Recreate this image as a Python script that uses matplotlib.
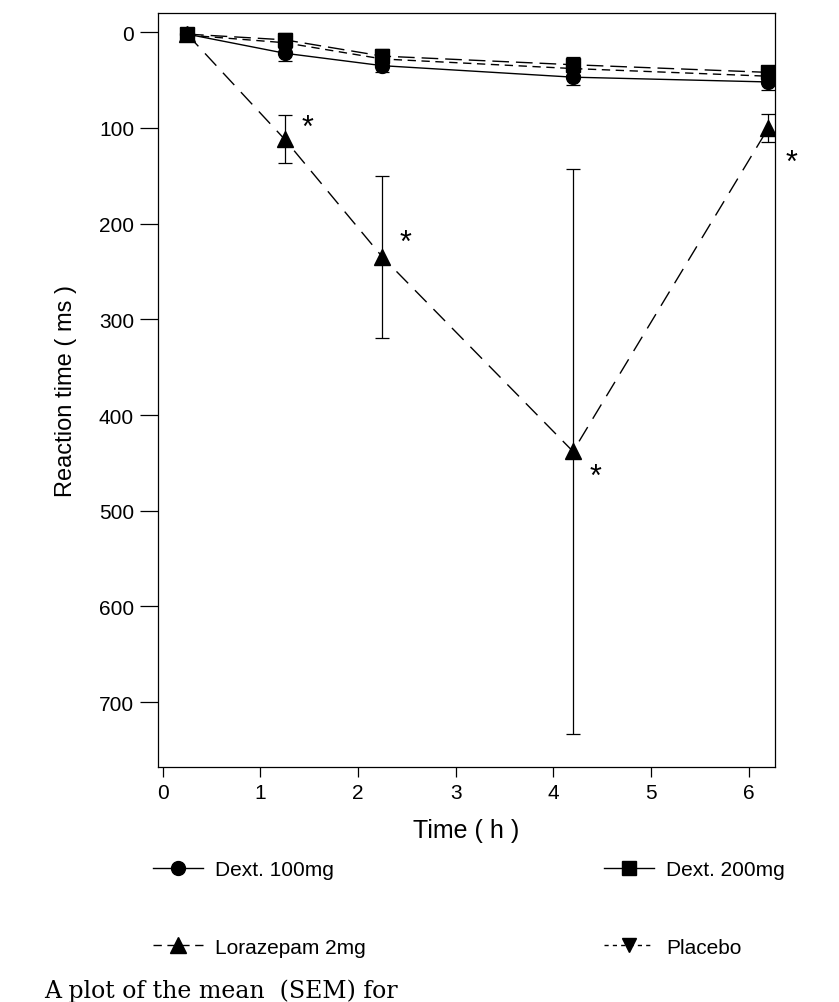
import matplotlib
matplotlib.use("Agg")
import matplotlib.pyplot as plt
from matplotlib.lines import Line2D

plt.rcParams["font.family"] = ["Liberation Sans", "DejaVu Sans"]

# Time points (h) and mean reaction times (ms) with SEM
time_h = [0.25, 1.25, 2.25, 4.2, 6.2]

dext100 = [2, 22, 35, 47, 52]
dext100_sem = [5, 8, 7, 8, 8]

dext200 = [2, 8, 25, 34, 42]
dext200_sem = [5, 7, 7, 8, 7]

placebo = [3, 11, 28, 38, 46]
placebo_sem = [5, 6, 6, 7, 7]

loraz = [2, 112, 235, 438, 100]
loraz_sem = [5, 25, 85, 295, 15]

xticks = [0, 1, 2, 3, 4, 5, 6]
yticks = [0, 100, 200, 300, 400, 500, 600, 700]

fig = plt.figure(figsize=(8.39, 10.03), dpi=100)
ax = fig.add_axes([0.188, 0.234, 0.736, 0.752])

common = dict(color="black", lw=1.0, capsize=5, elinewidth=0.9, capthick=0.9)
ax.errorbar(time_h, dext100, yerr=dext100_sem, marker="o", ms=10,
            ls="-", **common)
ax.errorbar(time_h, dext200, yerr=dext200_sem, marker="s", ms=10,
            ls=(0, (12, 5)), **common)
ax.errorbar(time_h, placebo, yerr=placebo_sem, marker="v", ms=10,
            ls=(0, (6, 4)), **common)
ax.errorbar(time_h, loraz, yerr=loraz_sem, marker="^", ms=11,
            ls=(0, (12, 7)), **common)

# significance marks next to the lorazepam points
star_dy = [0, -8, -10, 18, 25]
for t, v, dy in zip(time_h[1:], loraz[1:], star_dy[1:]):
    ax.annotate("*", (t, v), xytext=(12, -dy), textcoords="offset points",
                fontsize=22, ha="left", va="center")

ax.set_xlim(-0.05, 6.27)
ax.set_ylim(768, -20)
ax.set_xticks(xticks)
ax.set_yticks(yticks)
ax.tick_params(axis="y", length=13, width=0.9, labelsize=15, pad=4)
ax.tick_params(axis="x", length=7, width=0.9, labelsize=15, pad=4)
for s in ax.spines.values():
    s.set_linewidth(0.9)

ax.set_xlabel("Time ( h )", fontsize=18, labelpad=12)
ax.set_ylabel("Reaction time ( ms )", fontsize=17, labelpad=16)

# legend below the axes, two columns
handles = [
    Line2D([], [], color="black", lw=1, ls="-", marker="o", ms=10),
    Line2D([], [], color="black", lw=1, ls=(0, (6, 4)), marker="^", ms=11),
    Line2D([], [], color="black", lw=1, ls="-", marker="s", ms=10),
    Line2D([], [], color="black", lw=1, ls=(0, (3, 3)), marker="v", ms=10),
]
labels = ["Dext. 100mg", "Lorazepam 2mg", "Dext. 200mg", "Placebo"]
fig.legend(handles, labels, ncol=2, loc="upper left",
           bbox_to_anchor=(0.16, 0.16), frameon=False, fontsize=15,
           handlelength=2.4, labelspacing=2.8, columnspacing=11.4,
           handletextpad=0.6)

fig.text(0.053, 0.012, "A plot of the mean  (SEM) for", family="DejaVu Serif",
         fontsize=17, ha="left", va="center")

fig.savefig("out.png", dpi=100)
